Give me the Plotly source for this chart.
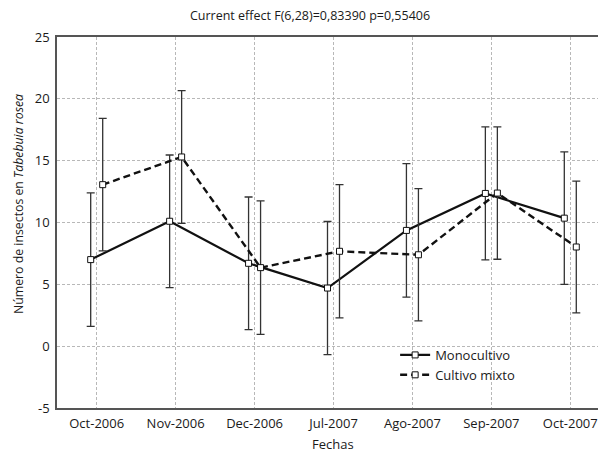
import plotly.graph_objects as go

categories = ["Oct-2006", "Nov-2006", "Dec-2006", "Jul-2007", "Ago-2007", "Sep-2007", "Oct-2007"]
mono_mean = [7.0, 10.1, 6.7, 4.7, 9.36, 12.35, 10.35]
mono_err = [5.4, 5.36, 5.36, 5.38, 5.4, 5.38, 5.36]
mixto_mean = [13.06, 15.3, 6.35, 7.67, 7.39, 12.38, 8.02]
mixto_err = [5.36, 5.37, 5.4, 5.39, 5.35, 5.35, 5.33]
y_ticks = [-5, 0, 5, 10, 15, 20, 25]
y_ticktext = ["-5", "0", "5", "10", "15", "20", "25"]

offset = 0.076
idx = list(range(len(categories)))
x_mono = [i - offset for i in idx]
x_mixto = [i + offset for i in idx]

FONT = "Open Sans"
TXT = "#1a1a1a"

fig = go.Figure()
fig.add_trace(go.Scatter(
    x=x_mono, y=mono_mean, name="Monocultivo", mode="lines+markers",
    line=dict(color="#111111", width=2.2),
    marker=dict(symbol="square", size=6, color="white", line=dict(color="#111111", width=1)),
    error_y=dict(type="data", array=mono_err, visible=True, color="#333333", thickness=1.3, width=4),
))
fig.add_trace(go.Scatter(
    x=x_mixto, y=mixto_mean, name="Cultivo mixto", mode="lines+markers",
    line=dict(color="#111111", width=2.4, dash="7px,4px"),
    marker=dict(symbol="square", size=6, color="white", line=dict(color="#111111", width=1)),
    error_y=dict(type="data", array=mixto_err, visible=True, color="#333333", thickness=1.3, width=4),
))

fig.update_layout(
    width=598, height=453,
    margin=dict(l=57, r=0, t=37, b=45),
    paper_bgcolor="white", plot_bgcolor="white",
    font=dict(family=FONT, size=13, color=TXT),
    showlegend=True,
    legend=dict(x=0.625, y=0.116, xanchor="left", yanchor="middle", bgcolor="rgba(0,0,0,0)",
                font=dict(size=13, color=TXT), itemwidth=30, tracegroupgap=0),
    title=dict(text="Current effect F(6,28)=0,83390 p=0,55406", x=310/598, xref="container",
               xanchor="center", y=1 - 16/453, yref="container", yanchor="middle",
               font=dict(size=12.5, color=TXT)),
)
fig.update_xaxes(
    range=[-0.503, 6.351], tickmode="array", tickvals=idx, ticktext=categories,
    showgrid=True, gridcolor="#b8b8b8", gridwidth=1, griddash="3px,2px",
    showline=True, linecolor="#555555", linewidth=1.5, mirror=True,
    ticks="outside", ticklen=3, tickcolor="rgba(0,0,0,0)", zeroline=False,
    tickfont=dict(size=13, color=TXT), automargin=False,
)
fig.update_yaxes(
    range=[-5, 25], tickmode="array", tickvals=y_ticks, ticktext=y_ticktext,
    showgrid=True, gridcolor="#b8b8b8", gridwidth=1, griddash="3px,2px",
    showline=True, linecolor="#555555", linewidth=1.5, mirror=False,
    ticks="outside", ticklen=3, tickcolor="rgba(0,0,0,0)", zeroline=False,
    tickfont=dict(size=13, color=TXT), automargin=False,
)
fig.add_annotation(text="Fechas", xref="paper", yref="paper", x=(333 - 57) / 541, y=(408 - 444) / 371,
                   xanchor="center", yanchor="middle",
                   showarrow=False, font=dict(size=13, color=TXT))
fig.add_annotation(text="Número de insectos en <i>Tabebuia rosea</i>", textangle=-90,
                   xref="paper", yref="paper", x=-39/541, y=(408 - 204) / 371,
                   xanchor="center", yanchor="middle",
                   showarrow=False, font=dict(size=12.3, color=TXT))

fig.write_html("out.html", config={"displayModeBar": False},
               post_script="document.body.style.margin='0';document.body.style.overflow='hidden';")
